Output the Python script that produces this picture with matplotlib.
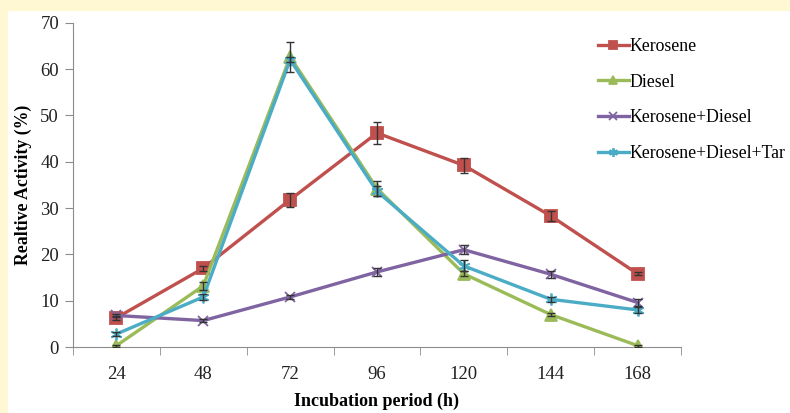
import matplotlib

matplotlib.use("Agg")
import matplotlib.pyplot as plt
from matplotlib.patches import Rectangle

# data
hours = ["24", "48", "72", "96", "120", "144", "168"]
kerosene = [6.3, 17.0, 31.8, 46.2, 39.2, 28.3, 15.8]
diesel = [0.3, 13.2, 62.6, 34.2, 15.8, 7.0, 0.3]
kero_diesel = [6.8, 5.7, 10.8, 16.2, 21.0, 15.7, 9.6]
kero_diesel_tar = [2.8, 10.8, 62.0, 33.6, 17.5, 10.3, 8.0]

kerosene_err = [0.4, 0.5, 1.5, 2.3, 1.6, 1.1, 0.3]
diesel_err = [0.2, 0.9, 3.2, 1.7, 0.5, 0.4, 0.2]
kero_diesel_err = [0.4, 0.3, 0.5, 0.8, 1.0, 0.8, 0.8]
kero_diesel_tar_err = [0.4, 0.6, 0.5, 1.1, 1.2, 0.5, 0.6]

series = [
    ("Kerosene", kerosene, kerosene_err, "#C0504D", "s", 8),
    ("Diesel", diesel, diesel_err, "#9BBB59", "^", 8.5),
    ("Kerosene+Diesel", kero_diesel, kero_diesel_err, "#8064A2", "x", 7.5),
    ("Kerosene+Diesel+Tar", kero_diesel_tar, kero_diesel_tar_err, "#4BACC6", (6, 2, 0), 8.5),
]

plt.rcParams["font.family"] = ["Liberation Serif", "DejaVu Serif"]

fig = plt.figure(figsize=(7.9, 4.13), dpi=100)
fig.patch.set_facecolor("#FFF8D2")
fig.add_artist(Rectangle((8 / 790, 0), 1, (413 - 11) / 413, transform=fig.transFigure,
                         facecolor="white", edgecolor="none", zorder=0))

ax = fig.add_axes([73 / 790, 66 / 413, 608 / 790, (347 - 22.7) / 413])
ax.set_facecolor("none")

x = list(range(len(hours)))
for label, values, errs, color, marker, size in series:
    ax.plot(x, values, color=color, linewidth=2.4, marker=marker, markersize=size,
            markeredgewidth=1.3, label=label, zorder=3)
    ax.errorbar(x, values, yerr=errs, fmt="none", ecolor="#333333", elinewidth=1,
                capsize=3, capthick=1, zorder=4)

ax.set_xlim(-0.5, len(hours) - 0.5)
ax.set_ylim(0, 70)
ax.set_xticks(x)
ax.set_xticklabels(hours)
ax.set_xticks([i - 0.5 for i in range(len(hours) + 1)], minor=True)
ax.tick_params(axis="x", which="major", length=0, pad=14, labelsize=13.5, labelcolor="#222222")
ax.tick_params(axis="x", which="minor", length=6, color="#8c8c8c", direction="out")
ax.set_yticks(range(0, 71, 10))
ax.tick_params(axis="y", length=6, color="#8c8c8c", labelsize=13.5, labelcolor="#222222", pad=4)

for side in ("top", "right"):
    ax.spines[side].set_visible(False)
for side in ("left", "bottom"):
    ax.spines[side].set_color("#8c8c8c")

ax.set_xlabel("Incubation period (h)", fontsize=13, fontweight="bold", labelpad=7)
ax.set_ylabel("Realtive Activity (%)", fontsize=12.8, fontweight="bold", labelpad=6)

fig.legend(loc="upper left", bbox_to_anchor=(589 / 790, 1 - 29 / 413), frameon=False,
           fontsize=12.8, handlelength=1.75, handletextpad=0.02, labelspacing=1.05,
           borderpad=0, markerscale=0.75)

fig.savefig("out.png", dpi=100, facecolor=fig.get_facecolor())
